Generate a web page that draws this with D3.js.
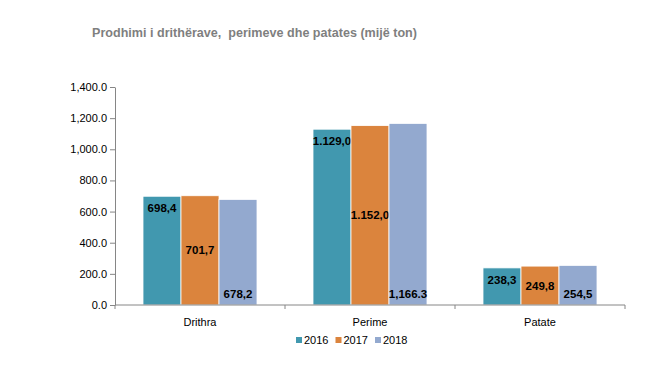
<!DOCTYPE html>
<html>
<head>
<meta charset="utf-8">
<script src="https://cdn.jsdelivr.net/npm/d3@7"></script>
<style>
body { margin: 0; background: #fff; }
text { font-family: "Liberation Sans", Arial, sans-serif; }
</style>
</head>
<body>
<div id="chart"></div>
<script>
var categories = ['Drithra', 'Perime', 'Patate'];
var years = ['2016', '2017', '2018'];
var v2016 = [698.4, 1129.0, 238.3];
var v2017 = [701.7, 1152.0, 249.8];
var v2018 = [678.2, 1166.3, 254.5];
var lbl2016 = ['698,4', '1.129,0', '238,3'];
var lbl2017 = ['701,7', '1.152,0', '249,8'];
var lbl2018 = ['678,2', '1,166.3', '254,5'];
var yTicks = [0, 200, 400, 600, 800, 1000, 1200, 1400];
var colors = ['#4198AF', '#DB843D', '#93A9CF'];

var width = 661, height = 366;
var svg = d3.select('#chart').append('svg')
    .attr('width', width)
    .attr('height', height);

svg.append('text')
    .attr('x', 92)
    .attr('y', 37)
    .attr('textLength', 325)
    .attr('lengthAdjust', 'spacingAndGlyphs')
    .style('white-space', 'pre')
    .style('font-size', '13.5px')
    .style('font-weight', 'bold')
    .style('fill', '#7f7f7f')
    .text('Prodhimi i drithërave,  perimeve dhe patates (mijë ton)');

var x0 = d3.scaleBand().domain(categories).range([115, 625]);
var x1 = d3.scaleBand().domain(years).range([28, 170 - 28]);
var y = d3.scaleLinear().domain([0, 1400]).range([305, 87]);

// y axis
var yAxis = svg.append('g')
    .attr('transform', 'translate(115,0)')
    .call(d3.axisLeft(y).tickValues(yTicks).tickSize(5).tickSizeOuter(0)
        .tickFormat(d3.format(',.1f')));
yAxis.selectAll('line, path').attr('stroke', '#868686');
yAxis.selectAll('text').attr('x', -8).style('font-size', '11px').style('fill', '#000')
    .style('font-family', '"Liberation Sans", Arial, sans-serif');

var series = [v2016, v2017, v2018];
var labels = [lbl2016, lbl2017, lbl2018];

series.forEach(function(vals, s) {
    var g = svg.append('g');
    g.selectAll('rect').data(vals).enter().append('rect')
        .attr('x', function(d, i) { return x0(categories[i]) + x1(years[s]); })
        .attr('y', function(d) { return y(d); })
        .attr('width', x1.bandwidth())
        .attr('height', function(d) { return y(0) - y(d); })
        .attr('fill', colors[s])
        .attr('stroke', '#fff')
        .attr('stroke-width', 0.8);
    g.selectAll('text').data(vals).enter().append('text')
        .attr('x', function(d, i) { return x0(categories[i]) + x1(years[s]) + x1.bandwidth() / 2; })
        .attr('y', function(d) {
            if (s === 0) return y(d) + 16;
            if (s === 1) return (y(d) + y(0)) / 2 + 4;
            return y(0) - 7;
        })
        .attr('text-anchor', 'middle')
        .style('font-size', '11.5px')
        .style('font-weight', 'bold')
        .style('fill', '#000')
        .text(function(d, i) { return labels[s][i]; });
});

// x axis
var xAxis = svg.append('g').attr('transform', 'translate(0,305)');
xAxis.append('line').attr('x1', 115).attr('x2', 625).attr('stroke', '#868686');
xAxis.selectAll('line.tk').data([115, 285, 455, 625]).enter().append('line')
    .attr('class', 'tk')
    .attr('x1', function(d) { return d; }).attr('x2', function(d) { return d; })
    .attr('y1', 0).attr('y2', 4).attr('stroke', '#868686');
xAxis.selectAll('text').data(categories).enter().append('text')
    .attr('x', function(d) { return x0(d) + x0.bandwidth() / 2; })
    .attr('y', 21)
    .attr('text-anchor', 'middle')
    .style('font-size', '11px')
    .text(function(d) { return d; });

// legend
var legend = svg.append('g').attr('transform', 'translate(296,340)');
var lg = legend.selectAll('g').data(years).enter().append('g')
    .attr('transform', function(d, i) { return 'translate(' + (i * 39.5) + ',0)'; });
lg.append('rect').attr('x', 0).attr('y', -3).attr('width', 6).attr('height', 6)
    .attr('fill', function(d, i) { return colors[i]; });
lg.append('text').attr('x', 8).attr('y', 4).style('font-size', '11px')
    .text(function(d) { return d; });
</script>
</body>
</html>
